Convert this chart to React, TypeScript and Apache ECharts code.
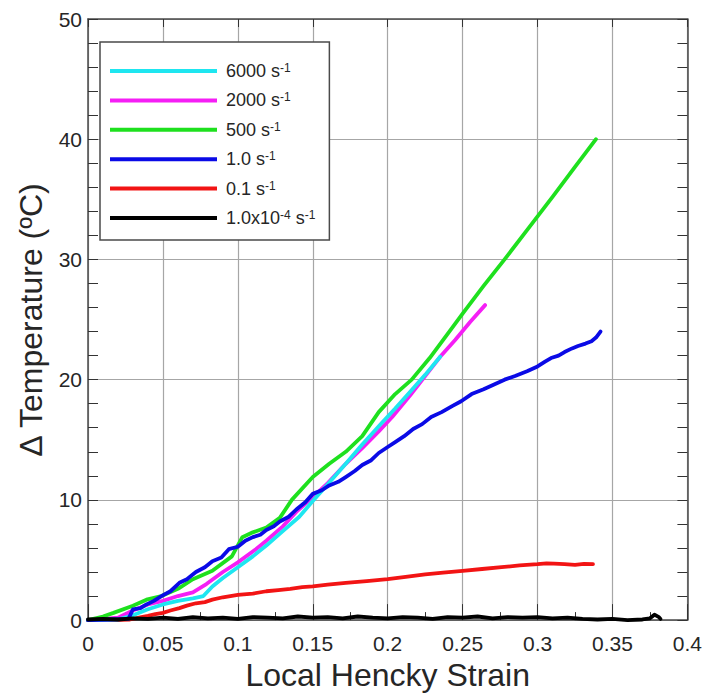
import React, { useEffect, useRef } from "react";
import * as echarts from "echarts";

// Strain (Hencky) vs temperature rise, one array of [strain, ΔT] pairs per strain rate
const rate6000: [number, number][] = [
  [0, 0], [0.02, 0.05], [0.03, 0.4], [0.04, 0.9], [0.05, 1.3], [0.06, 1.6], [0.07, 1.8],
  [0.077, 2.0], [0.083, 2.8], [0.09, 3.5], [0.1, 4.4], [0.11, 5.3], [0.119, 6.2],
  [0.13, 7.4], [0.141, 8.6], [0.15, 9.9], [0.16, 11.3], [0.172, 13.0], [0.183, 14.6],
  [0.196, 16.4], [0.205, 17.6], [0.215, 19.0], [0.225, 20.4], [0.235, 21.9],
];
const rate2000: [number, number][] = [
  [0, 0], [0.02, 0.2], [0.03, 0.8], [0.04, 1.3], [0.05, 1.6], [0.06, 2.0], [0.07, 2.3],
  [0.079, 3.0], [0.09, 4.0], [0.1, 4.8], [0.112, 5.9], [0.119, 6.6], [0.13, 7.8],
  [0.139, 9.0], [0.148, 10.0], [0.16, 11.4], [0.172, 13.0], [0.183, 14.3], [0.194, 15.7],
  [0.203, 16.9], [0.215, 18.7], [0.225, 20.3], [0.235, 21.9], [0.245, 23.3],
  [0.255, 24.8], [0.265, 26.2],
];
const rate500: [number, number][] = [
  [0, 0], [0.01, 0.3], [0.017, 0.6], [0.03, 1.2], [0.039, 1.7], [0.049, 2.0], [0.06, 2.6],
  [0.07, 3.4], [0.083, 4.1], [0.096, 5.3], [0.103, 6.9], [0.11, 7.3], [0.119, 7.7],
  [0.128, 8.5], [0.136, 10.0], [0.15, 11.9], [0.161, 13.0], [0.172, 14.0], [0.183, 15.3],
  [0.194, 17.3], [0.205, 18.8], [0.216, 20.0], [0.228, 21.8], [0.2405, 23.9], [0.25, 25.5],
  [0.264, 27.8], [0.278, 30.0], [0.294, 32.6], [0.31, 35.2], [0.325, 37.7], [0.339, 40.0],
];
const rate1: [number, number][] = [
  [0, 0], [0.015, 0.05], [0.027, 0.1], [0.03, 0.9], [0.035, 1.0], [0.039, 1.3], [0.044, 1.6],
  [0.049, 2.0], [0.055, 2.4], [0.061, 3.1], [0.066, 3.4], [0.072, 4.0], [0.078, 4.4],
  [0.083, 4.9], [0.089, 5.2], [0.094, 5.9], [0.1, 6.1], [0.105, 6.6], [0.11, 6.9],
  [0.115, 7.1], [0.119, 7.5], [0.124, 7.8], [0.128, 8.2], [0.134, 8.6], [0.139, 9.2],
  [0.145, 9.8], [0.15, 10.5], [0.156, 10.8], [0.161, 11.2], [0.167, 11.5], [0.172, 11.9],
  [0.178, 12.4], [0.183, 12.9], [0.189, 13.3], [0.194, 13.9], [0.2, 14.4], [0.205, 14.8],
  [0.211, 15.3], [0.217, 15.9], [0.223, 16.3], [0.229, 16.9], [0.236, 17.3], [0.243, 17.8],
  [0.249, 18.2], [0.256, 18.8], [0.264, 19.2], [0.271, 19.6], [0.278, 20.0], [0.285, 20.3],
  [0.293, 20.7], [0.3, 21.1], [0.305, 21.5], [0.309, 21.8], [0.314, 22.0], [0.318, 22.3],
  [0.323, 22.6], [0.327, 22.8], [0.332, 23.0], [0.336, 23.2], [0.339, 23.5], [0.342, 24.0],
];
const rate01: [number, number][] = [
  [0, 0], [0.015, 0], [0.028, 0.05], [0.034, 0.2], [0.04, 0.35], [0.045, 0.5], [0.05, 0.6],
  [0.055, 0.8], [0.061, 1.0], [0.066, 1.2], [0.072, 1.4], [0.078, 1.5], [0.083, 1.7],
  [0.09, 1.9], [0.1, 2.1], [0.11, 2.2], [0.119, 2.4], [0.127, 2.5], [0.135, 2.6],
  [0.143, 2.75], [0.15, 2.8], [0.16, 2.95], [0.172, 3.1], [0.186, 3.25], [0.2, 3.4],
  [0.212, 3.6], [0.225, 3.8], [0.237, 3.95], [0.25, 4.1], [0.263, 4.25], [0.276, 4.4],
  [0.288, 4.55], [0.3, 4.65], [0.306, 4.72], [0.311, 4.7], [0.318, 4.65], [0.325, 4.6],
  [0.331, 4.68], [0.337, 4.65],
];
const rate1e4: [number, number][] = [
  [0, 0.05], [0.01, 0.1], [0.02, 0.05], [0.03, 0.15], [0.04, 0.1], [0.05, 0.2], [0.06, 0.1],
  [0.07, 0.25], [0.08, 0.15], [0.09, 0.2], [0.1, 0.1], [0.11, 0.25], [0.12, 0.2],
  [0.13, 0.15], [0.14, 0.3], [0.15, 0.2], [0.16, 0.25], [0.17, 0.15], [0.18, 0.3],
  [0.19, 0.2], [0.2, 0.15], [0.21, 0.25], [0.22, 0.2], [0.23, 0.1], [0.24, 0.25],
  [0.25, 0.2], [0.26, 0.3], [0.27, 0.15], [0.28, 0.25], [0.29, 0.2], [0.3, 0.25],
  [0.31, 0.15], [0.32, 0.2], [0.33, 0.1], [0.34, 0.05], [0.35, 0.1], [0.36, 0.0],
  [0.37, 0.05], [0.375, 0.15], [0.378, 0.45], [0.381, 0.25], [0.382, 0.1],
];

const seriesNames = ["6000 s-1", "2000 s-1", "500 s-1", "1.0 s-1", "0.1 s-1", "1.0x10-4 s-1"];
const legendLabels = [
  "6000 s{sup|-1}", "2000 s{sup|-1}", "500 s{sup|-1}", "1.0 s{sup|-1}", "0.1 s{sup|-1}",
  "1.0x10{sup|-4} s{sup|-1}",
];
const seriesColors = ["#1ee6f0", "#f51ef5", "#1ee01e", "#0a0ae6", "#f21414", "#000000"];
const seriesData = [rate6000, rate2000, rate500, rate1, rate01, rate1e4];
// later entries are painted on top
const drawOrder = [4, 1, 0, 2, 3, 5];

const FONT = "'Liberation Sans', Arial, sans-serif";
const TEXT = "#262626";
const FRAME = "#4a4a4a";
const GRID = "#a6a6a6";

export default function App() {
  const ref = useRef<HTMLDivElement>(null);

  useEffect(() => {
    if (!ref.current) return;
    const chart = echarts.init(ref.current, undefined, { renderer: "svg" });

    const fmtX = (v: number) => String(+v.toFixed(2));

    chart.setOption({
      animation: false,
      backgroundColor: "#ffffff",
      textStyle: { fontFamily: FONT },
      grid: { left: 88, right: 15, top: 19, bottom: 75, containLabel: false },
      legend: {
        orient: "vertical",
        left: 100,
        top: 42,
        data: seriesNames,
        icon: "rect",
        itemWidth: 107,
        itemHeight: 4,
        itemGap: 11.4,
        padding: [20, 14, 13, 10],
        backgroundColor: "#ffffff",
        borderColor: FRAME,
        borderWidth: 1.5,
        formatter: (name: string) => legendLabels[seriesNames.indexOf(name)],
        textStyle: {
          fontFamily: FONT,
          fontSize: 18,
          color: TEXT,
          lineHeight: 18,
          padding: [0, 0, 0, 4],
          rich: {
            sup: { fontFamily: FONT, fontSize: 12, color: TEXT, verticalAlign: "top", lineHeight: 18 },
          },
        },
      },
      xAxis: [
        {
          type: "value",
          position: "bottom",
          min: 0,
          max: 0.4,
          interval: 0.05,
          name: "Local Hencky Strain",
          nameLocation: "middle",
          nameGap: 38,
          nameTextStyle: { fontFamily: FONT, fontSize: 32, color: TEXT },
          axisLine: { show: true, onZero: false, lineStyle: { color: FRAME, width: 1.5 } },
          axisTick: { show: true, inside: true, length: 16, lineStyle: { color: "#333", width: 1 } },
          minorTick: { show: true, splitNumber: 2, length: 8, lineStyle: { color: "#333", width: 1 } },
          splitLine: { show: true, lineStyle: { color: GRID, width: 1.2 } },
          axisLabel: { fontFamily: FONT, fontSize: 21, color: TEXT, margin: 13, formatter: fmtX },
        },
        {
          type: "value",
          position: "top",
          min: 0,
          max: 0.4,
          interval: 0.05,
          axisLine: { show: true, onZero: false, lineStyle: { color: FRAME, width: 1.5 } },
          axisTick: { show: true, inside: true, length: 8, lineStyle: { color: "#333", width: 1 } },
          minorTick: { show: false },
          splitLine: { show: false },
          axisLabel: { show: false },
        },
      ],
      yAxis: [
        {
          type: "value",
          position: "left",
          min: 0,
          max: 50,
          interval: 10,
          name: "\u2206 Temperature (\u00baC)",
          nameLocation: "middle",
          nameRotate: 90,
          nameGap: 41,
          nameTextStyle: { fontFamily: FONT, fontSize: 32, color: TEXT },
          axisLine: { show: true, onZero: false, lineStyle: { color: FRAME, width: 1.5 } },
          axisTick: { show: true, inside: true, length: 10, lineStyle: { color: "#333", width: 1 } },
          minorTick: { show: true, splitNumber: 5, length: 10, lineStyle: { color: "#333", width: 1 } },
          splitLine: { show: true, lineStyle: { color: GRID, width: 1.2 } },
          axisLabel: { fontFamily: FONT, fontSize: 21, color: TEXT, margin: 6 },
        },
        {
          type: "value",
          position: "right",
          min: 0,
          max: 50,
          interval: 10,
          axisLine: { show: true, onZero: false, lineStyle: { color: FRAME, width: 1.5 } },
          axisTick: { show: true, inside: true, length: 10, lineStyle: { color: "#333", width: 1 } },
          minorTick: { show: true, splitNumber: 5, length: 10, lineStyle: { color: "#333", width: 1 } },
          splitLine: { show: false },
          axisLabel: { show: false },
        },
      ],
      series: drawOrder.map((i) => ({
        type: "line",
        name: seriesNames[i],
        data: seriesData[i],
        xAxisIndex: 0,
        yAxisIndex: 0,
        showSymbol: false,
        symbol: "none",
        clip: false,
        color: seriesColors[i],
        lineStyle: { color: seriesColors[i], width: 3.8, cap: "round", join: "round" },
      })),
    });

    return () => chart.dispose();
  }, []);

  return (
    <div
      ref={ref}
      style={{ position: "fixed", left: 0, top: 0, width: 705, height: 696, background: "#fff" }}
    />
  );
}
